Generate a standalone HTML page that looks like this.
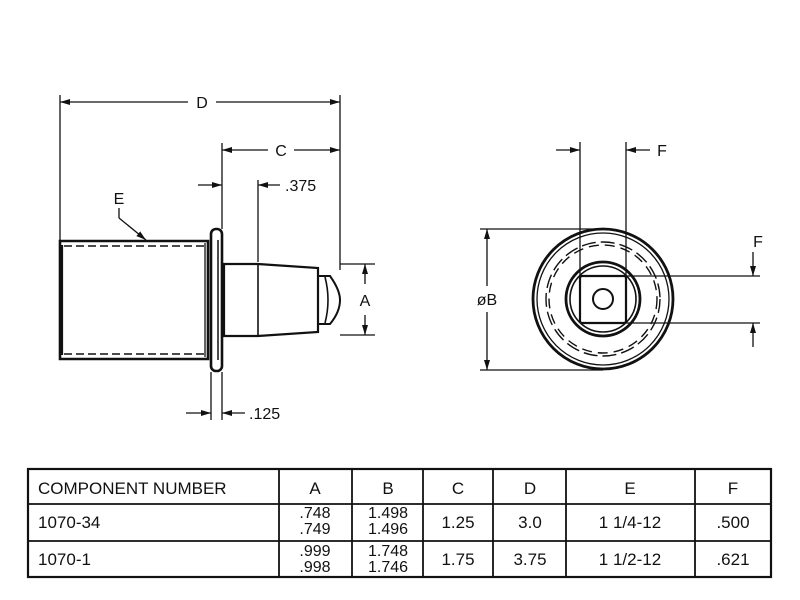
<!DOCTYPE html>
<html><head><meta charset="utf-8"><style>
html,body{margin:0;padding:0;background:#fff}
svg{display:block}
text{font-family:"Liberation Sans",Arial,sans-serif;fill:#111}
</style></head><body>
<svg width="800" height="600" viewBox="0 0 800 600" xmlns="http://www.w3.org/2000/svg">
<defs>
<marker id="ar" viewBox="0 0 10 6" refX="10" refY="3" markerWidth="10" markerHeight="6" orient="auto-start-reverse" markerUnits="userSpaceOnUse"><path d="M0,0 L10,3 L0,6 z" fill="#111"/></marker>
</defs>
<g stroke="#111" fill="none" stroke-width="1.3">
<line x1="60" y1="95" x2="60" y2="240"/>
<line x1="340" y1="95" x2="340" y2="270"/>
<line x1="60" y1="102" x2="188" y2="102" marker-start="url(#ar)"/>
<line x1="216" y1="102" x2="340" y2="102" marker-end="url(#ar)"/>
<line x1="222" y1="143" x2="222" y2="229"/>
<line x1="222" y1="150" x2="268" y2="150" marker-start="url(#ar)"/>
<line x1="294" y1="150" x2="340" y2="150" marker-end="url(#ar)"/>
<line x1="198" y1="185" x2="222" y2="185" marker-end="url(#ar)"/>
<line x1="258" y1="180" x2="258" y2="262"/>
<line x1="280" y1="185" x2="258" y2="185" marker-end="url(#ar)"/>
<line x1="211" y1="372" x2="211" y2="420"/>
<line x1="222" y1="372" x2="222" y2="420"/>
<line x1="186" y1="413" x2="211" y2="413" marker-end="url(#ar)"/>
<line x1="245" y1="413" x2="222" y2="413" marker-end="url(#ar)"/>
<line x1="119" y1="208" x2="119" y2="218"/>
<line x1="119" y1="218" x2="146" y2="240" marker-end="url(#ar)"/>
<path d="M60,241 L208,241 L208,359 L60,359 Z" stroke-width="2.6"/>
<line x1="62" y1="245" x2="62" y2="355" stroke-width="2.2"/>
<line x1="64" y1="246" x2="206" y2="246" stroke-dasharray="8,4" stroke-width="1.4"/>
<line x1="64" y1="354" x2="206" y2="354" stroke-dasharray="8,4" stroke-width="1.4"/>
<line x1="205" y1="243" x2="205" y2="357"/>
<rect x="211" y="229" width="11" height="142" rx="5" stroke-width="2.6"/>
<line x1="218" y1="240" x2="218" y2="360" stroke-width="1.5"/>
<path d="M224,264 L258,264 L318,268 L318,332 L258,336 L224,336 Z" stroke-width="2.2"/>
<line x1="258" y1="264" x2="258" y2="336" stroke-width="1.6"/>
<path d="M318,276 L330,276 Q340,290 340,300 Q340,312 330,324 L318,324" stroke-width="2"/>
<path d="M325,277 Q331,300 325,323" stroke-width="1.6"/>
<line x1="340" y1="264" x2="375" y2="264"/>
<line x1="340" y1="335" x2="375" y2="335"/>
<line x1="365" y1="284" x2="365" y2="264" marker-end="url(#ar)"/>
<line x1="365" y1="315" x2="365" y2="335" marker-end="url(#ar)"/>
<circle cx="603" cy="299" r="70" stroke-width="2.8"/>
<circle cx="603" cy="299" r="66" stroke-width="1.3"/>
<circle cx="603" cy="299" r="57" stroke-dasharray="14,5" stroke-width="1.4"/>
<circle cx="603" cy="299" r="54" stroke-dasharray="10,6" stroke-width="1.4"/>
<circle cx="603" cy="299" r="37" stroke-width="2.8"/>
<circle cx="603" cy="299" r="33" stroke-width="1.6"/>
<rect x="580" y="276" width="46" height="47" rx="2" stroke-width="2.2"/>
<circle cx="603" cy="299" r="10" stroke-width="2"/>
<line x1="580" y1="142" x2="580" y2="276"/>
<line x1="626" y1="142" x2="626" y2="276"/>
<line x1="556" y1="150" x2="580" y2="150" marker-end="url(#ar)"/>
<line x1="650" y1="150" x2="626" y2="150" marker-end="url(#ar)"/>
<line x1="626" y1="276" x2="760" y2="276"/>
<line x1="626" y1="323" x2="760" y2="323"/>
<line x1="753" y1="252" x2="753" y2="276" marker-end="url(#ar)"/>
<line x1="753" y1="347" x2="753" y2="323" marker-end="url(#ar)"/>
<line x1="480" y1="229" x2="603" y2="229"/>
<line x1="480" y1="370" x2="603" y2="370"/>
<line x1="487" y1="286" x2="487" y2="229" marker-end="url(#ar)"/>
<line x1="487" y1="312" x2="487" y2="370" marker-end="url(#ar)"/>
<rect x="28" y="469" width="743" height="108" stroke-width="2.2"/>
<line x1="28" y1="504" x2="771" y2="504" stroke-width="1.8"/>
<line x1="28" y1="541" x2="771" y2="541" stroke-width="1.8"/>
<g stroke-width="1.8">
<line x1="279" y1="469" x2="279" y2="577"/>
<line x1="352" y1="469" x2="352" y2="577"/>
<line x1="423" y1="469" x2="423" y2="577"/>
<line x1="493" y1="469" x2="493" y2="577"/>
<line x1="566" y1="469" x2="566" y2="577"/>
<line x1="695" y1="469" x2="695" y2="577"/>
</g>
</g>
<g font-size="16">
<text x="202" y="108" text-anchor="middle">D</text>
<text x="281" y="156" text-anchor="middle">C</text>
<text x="285" y="191">.375</text>
<text x="119" y="204" text-anchor="middle">E</text>
<text x="249" y="419">.125</text>
<text x="365" y="306" text-anchor="middle">A</text>
<text x="487" y="305" text-anchor="middle">øB</text>
<text x="662" y="156" text-anchor="middle">F</text>
<text x="758" y="247" text-anchor="middle">F</text>
</g>
<g font-size="17">
<text x="38" y="494">COMPONENT NUMBER</text>
<text x="315" y="494" text-anchor="middle">A</text>
<text x="388" y="494" text-anchor="middle">B</text>
<text x="458" y="494" text-anchor="middle">C</text>
<text x="530" y="494" text-anchor="middle">D</text>
<text x="630" y="494" text-anchor="middle">E</text>
<text x="733" y="494" text-anchor="middle">F</text>
<text x="38" y="528">1070-34</text>
<text x="38" y="565">1070-1</text>
<text x="458" y="528" text-anchor="middle">1.25</text>
<text x="530" y="528" text-anchor="middle">3.0</text>
<text x="630" y="528" text-anchor="middle">1 1/4-12</text>
<text x="733" y="528" text-anchor="middle">.500</text>
<text x="458" y="565" text-anchor="middle">1.75</text>
<text x="530" y="565" text-anchor="middle">3.75</text>
<text x="630" y="565" text-anchor="middle">1 1/2-12</text>
<text x="733" y="565" text-anchor="middle">.621</text>
</g>
<g font-size="16" text-anchor="middle">
<text x="315" y="518">.748</text>
<text x="315" y="534">.749</text>
<text x="388" y="518">1.498</text>
<text x="388" y="534">1.496</text>
<text x="315" y="556">.999</text>
<text x="315" y="572">.998</text>
<text x="388" y="556">1.748</text>
<text x="388" y="572">1.746</text>
</g>
</svg>
</body></html>
